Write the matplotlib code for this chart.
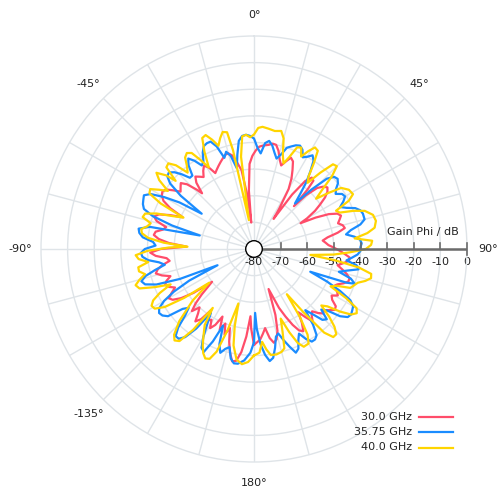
import numpy as np
import matplotlib
matplotlib.use("Agg")
import matplotlib.pyplot as plt
from matplotlib.lines import Line2D
from matplotlib.patches import Circle

plt.rcParams['font.family'] = ['DejaVu Sans']

# ---- data: gain phi (dB) versus phi (deg), one list of (phi, gain) per frequency ----
series_labels = ["30.0 GHz", "35.75 GHz", "40.0 GHz"]
series_colors = ["#ff4d6a", "#1a8cff", "#ffd500"]

pattern_30 = [
    (-180, -44), (-178, -50), (-177, -54.7), (-175, -47), (-173, -41), (-171, -37.5), (-169, -37),
    (-167, -40), (-165, -44), (-163, -49), (-161, -46), (-159, -50), (-157, -47), (-155, -52),
    (-153, -48), (-151, -46), (-149, -49), (-147, -48), (-145, -52), (-143, -47), (-141, -45),
    (-139, -48), (-137, -50), (-135, -47), (-133, -50), (-131, -54), (-128, -60), (-126, -52),
    (-124, -47), (-122, -44), (-120, -43), (-118, -45), (-116, -47), (-114, -45), (-112, -44),
    (-110, -45), (-108, -47), (-106, -44), (-104, -42), (-102, -43), (-100, -45), (-98, -48),
    (-96, -47), (-94, -43), (-92, -41), (-90, -45), (-88, -54.7), (-86, -48), (-84, -44),
    (-82, -42), (-80, -42.5), (-78, -45), (-76, -46), (-74, -42), (-72, -40.5), (-70, -42),
    (-68, -46), (-66, -50.7), (-64, -45), (-62, -41.5), (-60, -40), (-58, -39.4), (-56, -40),
    (-54, -42.5), (-52, -45), (-50, -44), (-48, -43), (-46, -45), (-44, -49), (-43, -51.4),
    (-41, -47), (-39, -45), (-37, -46), (-35, -47), (-33, -45), (-31, -43.5), (-29, -45),
    (-27, -48), (-25, -47), (-23, -46), (-21, -45), (-19, -44), (-17, -43), (-15, -42.8),
    (-13, -44), (-11, -47), (-9, -50), (-7, -60), (-6, -70), (-5, -58), (-3, -48), (-1, -45),
    (1, -43), (3, -41.5), (5, -41), (8, -40.5), (10, -39.8), (12, -40), (14, -42), (16, -45),
    (18, -47), (20, -45), (22, -43), (24, -44), (26, -47), (28, -50), (30, -54), (32, -62),
    (33, -66.5), (35, -55), (37, -48), (39, -45.5), (41, -46), (42, -50), (43, -58), (44, -52),
    (46, -47), (48, -45), (50, -44), (52, -45), (54, -47), (56, -50), (58, -53), (60, -57),
    (61, -60), (63, -54), (65, -49), (67, -46), (69, -45), (71, -46), (73, -47), (75, -45.5),
    (77, -45), (79, -48), (81, -52), (83, -54), (85, -53), (87, -52), (89, -50), (91, -48),
    (93, -46), (95, -44), (97, -44), (99, -46), (101, -48), (103, -46), (105, -44), (107, -42.5),
    (109, -42.5), (111, -44), (113, -46), (115, -47), (117, -45), (119, -44), (121, -46),
    (123, -45), (125, -42.5), (127, -42), (129, -43.5), (131, -45), (133, -44.5), (135, -46),
    (137, -48), (139, -47), (141, -45), (143, -48), (145, -51), (147, -47), (149, -44),
    (151, -45), (153, -48), (155, -52), (157, -56), (159, -62), (160, -64), (162, -54),
    (164, -48), (166, -45), (168, -44), (170, -46), (172, -50), (174, -48), (176, -46),
    (178, -45), (180, -44),
]

pattern_3575 = [
    (-180, -45), (-178, -41), (-175, -38), (-172, -36.5), (-170, -36.4), (-168, -38), (-166, -42),
    (-164, -41), (-162, -39), (-160, -42), (-158, -49), (-156, -42), (-154, -37), (-152, -38),
    (-150, -42), (-148, -47), (-146, -51), (-144, -43), (-142, -38), (-140, -36), (-138, -36),
    (-136, -39), (-134, -44), (-132, -47), (-130, -45), (-128, -39), (-126, -37.5), (-124, -37),
    (-122, -38), (-120, -41), (-118, -46), (-116, -53), (-114, -65), (-112, -50), (-110, -41),
    (-108, -37), (-106, -36), (-104, -38), (-102, -42), (-100, -46), (-98, -44), (-96, -40),
    (-94, -38), (-92, -37.5), (-90, -39), (-88, -43), (-86, -42), (-84, -38), (-82, -36.5),
    (-80, -36), (-78, -40), (-76, -59), (-74, -48), (-72, -40), (-70, -36), (-68, -35),
    (-66, -34.5), (-64, -34), (-62, -36), (-60, -41), (-58, -47), (-56, -56.3), (-54, -46),
    (-52, -40), (-50, -37.5), (-48, -37), (-46, -38.5), (-44, -41), (-42, -44), (-40, -44),
    (-38, -40), (-36, -38), (-34, -40), (-32, -43), (-30, -42), (-28, -39), (-26, -37),
    (-24, -36.5), (-22, -36.5), (-20, -39), (-18, -44), (-16, -42), (-14, -44), (-12, -49),
    (-10, -44), (-8, -39), (-6, -37.3), (-4, -37), (-2, -37.5), (0, -38.5), (2, -42), (4, -44),
    (6, -40), (8, -39), (10, -40.5), (12, -43), (14, -45), (16, -43), (18, -40), (20, -39),
    (22, -38), (24, -37.5), (26, -38.5), (28, -41), (30, -40), (32, -38.5), (34, -40), (36, -44),
    (38, -48), (40, -53), (42, -57), (44, -49), (46, -42), (48, -39.5), (50, -39), (52, -40),
    (54, -42), (56, -43), (58, -41), (60, -40.5), (62, -42), (64, -44), (66, -42), (68, -39),
    (70, -37.5), (72, -37), (75, -37), (77, -39), (79, -43), (81, -45), (83, -42), (85, -40),
    (87, -39.5), (89, -40), (91, -40), (93, -41), (95, -43), (97, -45), (99, -41), (101, -40),
    (103, -44), (105, -47), (107, -42), (109, -40), (110, -43), (112, -57.2), (114, -50),
    (116, -44), (118, -39), (120, -37), (122, -36.5), (124, -36), (126, -36.5), (128, -39),
    (130, -44), (132, -46), (134, -42), (136, -43), (138, -47), (140, -50), (142, -44),
    (144, -40), (146, -39), (148, -39), (150, -41), (152, -44), (154, -42), (156, -39),
    (158, -38), (160, -41), (162, -44), (164, -47), (166, -46), (168, -42), (170, -38.5),
    (172, -37.5), (174, -40), (176, -44), (178, -50), (179, -56), (180, -45),
]

pattern_40 = [
    (-180, -40), (-177, -37.5), (-174, -36.5), (-171, -38), (-168, -43), (-166, -50), (-164, -58.7),
    (-162, -48), (-160, -39), (-158, -35.5), (-156, -35), (-154, -36.5), (-152, -39), (-150, -42),
    (-147, -46), (-145, -53), (-143, -42), (-141, -35.5), (-139, -34.5), (-137, -36), (-134, -41),
    (-130, -50), (-127, -59), (-125, -48), (-123, -40), (-121, -36.5), (-119, -36), (-117, -37.5),
    (-115, -41), (-113, -46), (-111, -40), (-109, -34.5), (-107, -33.5), (-105, -35.5), (-103, -38),
    (-101, -36), (-99, -36), (-97, -40), (-95, -36.5), (-93, -35.5), (-91, -40), (-89, -48),
    (-88, -55), (-86, -46), (-84, -40), (-82, -37.5), (-80, -37), (-78, -39), (-76, -40),
    (-74, -36.5), (-72, -37), (-70, -41), (-68, -47), (-66, -51), (-64, -41), (-62, -35.5),
    (-60, -35), (-58, -38), (-56, -41), (-54, -36), (-52, -33.5), (-50, -37), (-49, -41),
    (-47, -35), (-45, -34.5), (-43, -37), (-41, -42), (-39, -40), (-37, -37), (-35, -36),
    (-33, -37), (-31, -41), (-29, -45), (-27, -39), (-25, -34), (-23, -33.5), (-21, -36),
    (-19, -39), (-17, -36.5), (-15, -34.5), (-13, -35), (-12, -42), (-10, -69), (-8, -45),
    (-6, -37.5), (-4, -37), (-2, -38), (0, -37), (2, -34.5), (4, -34), (7, -34.5), (10, -35),
    (13, -34.5), (15, -37), (17, -43), (19, -46), (21, -43), (23, -38.5), (25, -38), (27, -41),
    (29, -38), (31, -35.5), (33, -36), (35, -41), (37, -46), (39, -48), (41, -42), (43, -36.5),
    (45, -36), (47, -40), (49, -46), (51, -50), (53, -45), (55, -40), (58, -38), (61, -37.5),
    (63, -40), (65, -46), (67, -45), (69, -40), (71, -36), (74, -33.5), (77, -33), (80, -34),
    (82, -37), (84, -42), (86, -35.5), (88, -36), (90, -38), (92, -44), (94, -50), (96, -58.7),
    (98, -49), (100, -40), (102, -35), (104, -34.7), (106, -36.5), (108, -39),
    (112, -41), (114, -46), (116, -48), (118, -41), (120, -35.5), (122, -34.5), (124, -36),
    (126, -40), (128, -45), (130, -47), (132, -42), (134, -38), (136, -35.5), (138, -35.5),
    (140, -39), (142, -50), (144, -59), (146, -49), (148, -42), (150, -39), (153, -38.8),
    (155, -41), (157, -46), (159, -52), (161, -47), (163, -41), (165, -40), (168, -39.5),
    (171, -39.7), (173, -42), (175, -45), (177, -41), (180, -40),
]

r_min, r_max = -80, 0
r_ticks = list(range(-80, 1, 10))
angle_labels = {0: "0°", 45: "45°", 90: "90°", -45: "-45°", -90: "-90°", -135: "-135°", 180: "180°"}
axis_title = "Gain Phi / dB"

grid_color = "#dfe4e8"
axis_color = "#6b6b6b"
text_color = "#222222"

W, H = 498, 493
fig = plt.figure(figsize=(W / 100, H / 100), dpi=100)
cx, cy, R = 254, 249, 213
ax = fig.add_axes([(cx - R) / W, (H - cy - R) / H, 2 * R / W, 2 * R / H], projection="polar")
ax.set_theta_zero_location("N")
ax.set_theta_direction(-1)
ax.set_ylim(r_min, r_max)
ax.set_yticks(r_ticks[1:-1])
ax.set_yticklabels([])
ax.set_xticks(np.deg2rad(np.arange(0, 360, 15)))
ax.set_xticklabels([])
ax.grid(True, color=grid_color, lw=1.0)
ax.spines["polar"].set_color(grid_color)
ax.spines["polar"].set_linewidth(1.0)
ax.tick_params(length=0)

for pattern, col in zip([pattern_30, pattern_3575, pattern_40], series_colors):
    phi = np.array([p for p, _ in pattern], dtype=float)
    gain = np.array([g for _, g in pattern], dtype=float)
    ax.plot(np.deg2rad(phi), gain, color=col, lw=1.6, zorder=3,
            solid_joinstyle="round")

# angle labels outside the outer ring
for a, lab in angle_labels.items():
    ax.text(np.deg2rad(a), r_max + 7.9, lab, ha="center", va="center",
            fontsize=8, color=text_color, clip_on=False)

# radial scale drawn along the 90° direction
ax.plot([np.pi / 2, np.pi / 2], [r_min, r_max], color=axis_color, lw=1.8, zorder=4)
tick_len = 6 / (2 * R)
for v in r_ticks:
    xf = 0.5 + 0.5 * (v - r_min) / (r_max - r_min)
    y0 = 0.5 - (tick_len if v == r_max else 0)
    ax.add_line(Line2D([xf, xf], [y0, 0.5 + tick_len], transform=ax.transAxes,
                       color=axis_color, lw=1.2, zorder=4, clip_on=False))
    ax.text(xf, 0.5 - 13 / (2 * R), str(v), transform=ax.transAxes, ha="center", va="center",
            fontsize=8, color=text_color, zorder=2)
ax.text(1.0 - 8 / (2 * R), 0.5 + 17 / (2 * R), axis_title, transform=ax.transAxes,
        ha="right", va="center", fontsize=8, color=text_color)

ax.add_patch(Circle((0.5, 0.5), 8.3 / (2 * R), transform=ax.transAxes, facecolor="white",
                    edgecolor="black", lw=1.0, zorder=6, clip_on=False))

# legend: label text on the left, line sample on the right
rows_y = [416.5, 432, 447.5]
for lab, col, y in zip(series_labels, series_colors, rows_y):
    fig.text(412 / W, 1 - y / H, lab, ha="right", va="center", fontsize=8, color=text_color)
    fig.add_artist(Line2D([419 / W, 453 / W], [1 - y / H, 1 - y / H], transform=fig.transFigure,
                          color=col, lw=1.6))

fig.savefig("out.png", dpi=100)
